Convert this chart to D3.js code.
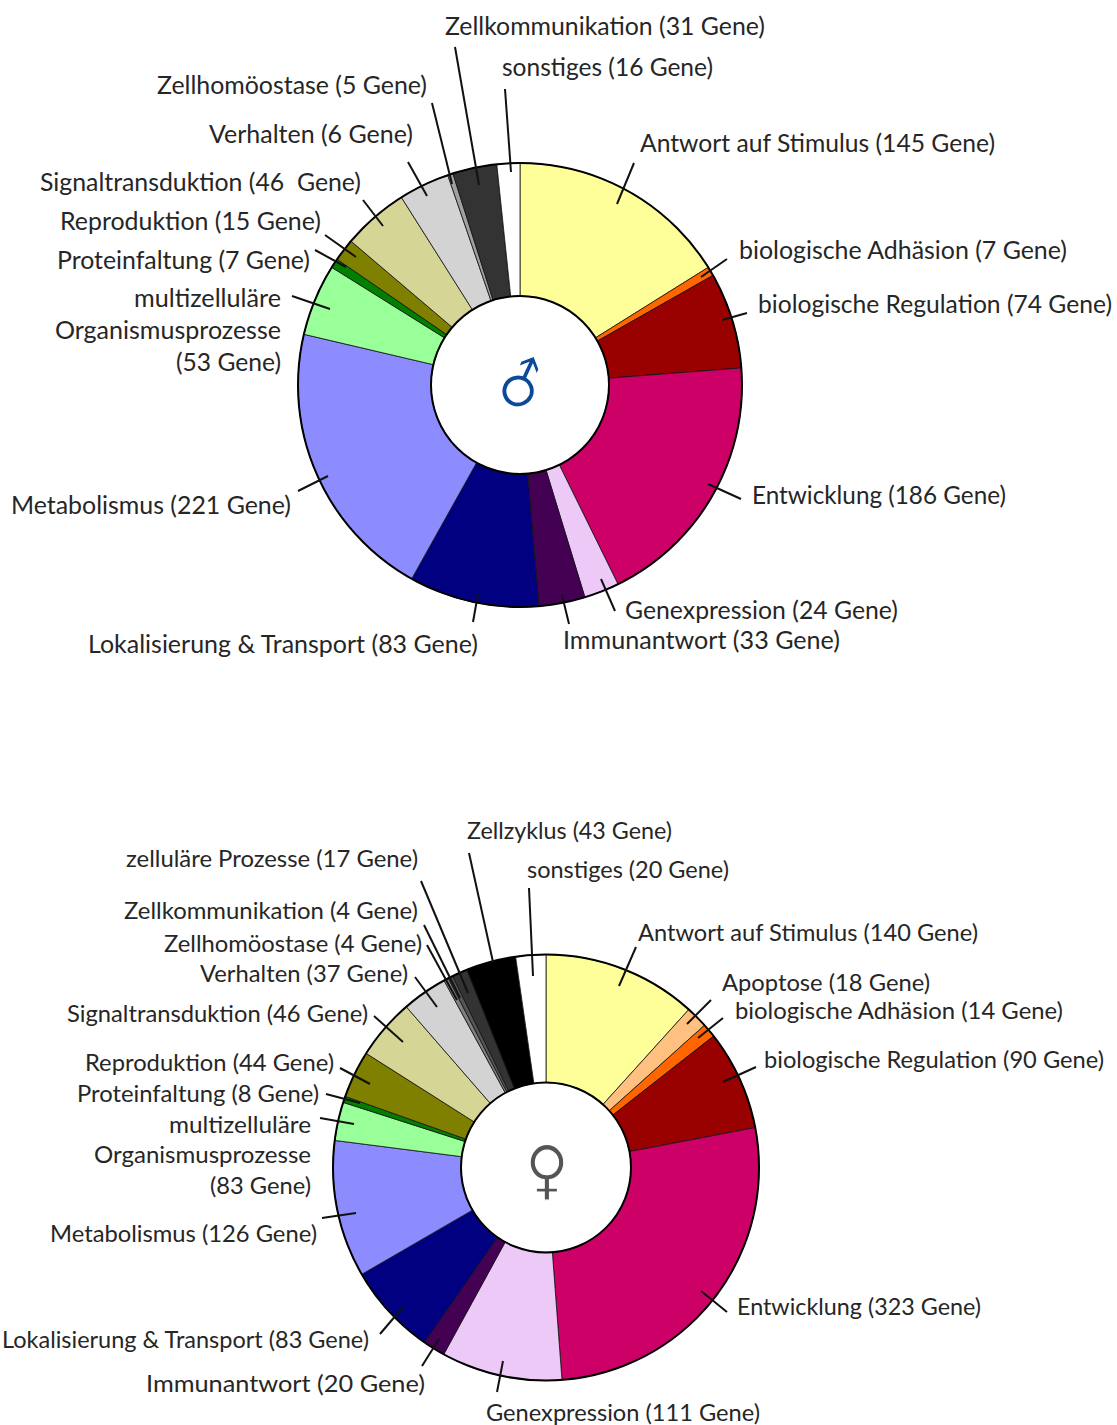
<!DOCTYPE html>
<html><head><meta charset="utf-8">
<script src="https://cdn.jsdelivr.net/npm/d3@7/dist/d3.min.js"></script>
<style>html,body{margin:0;padding:0;background:#fff;overflow:hidden}svg{display:block}text{font-family:Lato,"Open Sans",sans-serif;fill:#262626;white-space:pre}</style>
</head><body><svg id="c" width="1117" height="1425"></svg>
<script>
// ---------- data ----------
const maleLabels = ["Antwort auf Stimulus (145 Gene)","biologische Adhäsion (7 Gene)","biologische Regulation (74 Gene)","Entwicklung (186 Gene)","Genexpression (24 Gene)","Immunantwort (33 Gene)","Lokalisierung & Transport (83 Gene)","Metabolismus (221 Gene)","multizelluläre|Organismusprozesse|(53 Gene)","Proteinfaltung (7 Gene)","Reproduktion (15 Gene)","Signaltransduktion (46  Gene)","Verhalten (6 Gene)","Zellhomöostase (5 Gene)","Zellkommunikation (31 Gene)","sonstiges (16 Gene)"];
// slice sizes as drawn, in degrees of the ring
const maleSlices = [58,2.4,25.2,68.2,9.2,12.1,34.1,74,18.8,2.5,5.9,17.3,13.3,1.4,11.6,6];
const maleColors = ["#FFFF99","#FF6600","#990000","#CC0066","#ECC9F6","#440053","#000080","#8C8CFF","#99FF99","#008000","#808000","#D5D596","#D3D3D3","#A0A0A0","#333333","#FFFFFF"];

const femaleLabels = ["Antwort auf Stimulus (140 Gene)","Apoptose (18 Gene)","biologische Adhäsion (14 Gene)","biologische Regulation (90 Gene)","Entwicklung (323 Gene)","Genexpression (111 Gene)","Immunantwort (20 Gene)","Lokalisierung & Transport (83 Gene)","Metabolismus (126 Gene)","multizelluläre|Organismusprozesse|(83 Gene)","Proteinfaltung (8 Gene)","Reproduktion (44 Gene)","Signaltransduktion (46 Gene)","Verhalten (37 Gene)","Zellhomöostase (4 Gene)","Zellkommunikation (4 Gene)","zelluläre Prozesse (17 Gene)","Zellzyklus (43 Gene)","sonstiges (20 Gene)"];
const femaleSlices = [42.1,6,3.8,27.3,96.5,33,6.1,25.1,37.4,10.5,1.7,12.9,16.6,12.4,1.3,1.3,4.2,13.6,8.2];
const femaleColors = ["#FFFF99","#FFC080","#FF6600","#990000","#CC0066","#ECC9F6","#440053","#000080","#8C8CFF","#99FF99","#008000","#808000","#D5D596","#D3D3D3","#808080","#555555","#333333","#000000","#FFFFFF"];

// ---------- layout ----------
const maleLayout = {cx:520,cy:385,R:222,r:89,font:24.8,lineGap:32,symbol:"♂",symColor:"#0B4A99",symTransform:"translate(518,392) rotate(-21)",symDx:5.6,symDy:14,symSize:58,
 text:[[640,144,"start"],[739,251,"start"],[758,305,"start"],[752,496,"start"],[625,611,"start"],[563,641,"start"],[88,645,"start"],[11,506,"start"],[281,299,"end"],[57,261,"start"],[60,222,"start"],[40,183,"start"],[209,135,"start"],[157,86,"start"],[445,27,"start"],[502,68,"start"]],
 width:[355,328,354,254,273,277,390,280,[147,226,105],253,261,321,204,270,320,211],
 lead:[[634,163,617,204],[727,259,701,277],[747,313,722,320],[741,499,708,484],[615,611,601,579],[569,624,562,595],[473,622,478,594],[298,491,328,476],[292,296,330,309],[315,250,346,267],[325,235,356,257],[363,200,383,226],[408,162,427,196],[432,103,452,184],[455,47,479,185],[505,89,511,172]]};
const femaleLayout = {cx:546,cy:1167.5,R:213,r:85,font:23.9,lineGap:30.5,symbol:"♀",symColor:"#555555",symTransform:"translate(547,1164) scale(1,1.08)",symDx:0,symDy:26,symSize:60,
 text:[[638,933,"start"],[722,983,"start"],[735,1011,"start"],[764,1060,"start"],[737,1307,"start"],[486,1413,"start"],[146,1384,"start"],[369,1340,"end"],[50,1234,"start"],[311,1125,"end"],[77,1094,"start"],[85,1063,"start"],[67,1014,"start"],[200,974,"start"],[164,944,"start"],[124,911,"start"],[126,859,"start"],[467,831,"start"],[527,870,"start"]],
 width:[340,208,328,340,244,274,279,367,267,[142,217,101],242,249,301,208,258,294,292,205,202],
 lead:[[636,947,619,986],[711,1000,687,1024],[723,1018,698,1038],[756,1067,723,1082],[727,1312,701,1291],[497,1392,503,1361],[422,1366,439,1339],[380,1334,403,1307],[322,1218,356,1213],[320,1118,354,1124],[326,1094,360,1103],[340,1068,370,1084],[374,1016,403,1042],[415,977,437,1007],[427,945,457,1000],[424,925,460,998],[421,881,468,993],[469,853,493,962],[529,888,533,976]]};

const svg = d3.select("#c");
function draw(labels, slices, colors, L){
  const g = svg.append("g").attr("transform",`translate(${L.cx},${L.cy})`);
  const pie = d3.pie().sort(null).value(d=>d)(slices);
  const arc = d3.arc().innerRadius(L.r).outerRadius(L.R);
  g.selectAll("path.s").data(pie).join("path").attr("class","s").attr("d",arc)
    .attr("fill",(d,i)=>colors[i]).attr("stroke","#111").attr("stroke-width",0.8);
  // outer and inner rims
  [L.R,L.r].forEach(rad=>g.append("circle").attr("r",rad).attr("fill","none").attr("stroke","#000").attr("stroke-width",2));
  // leaders
  svg.append("g").selectAll("line").data(L.lead).join("line")
    .attr("x1",d=>d[0]).attr("y1",d=>d[1]).attr("x2",d=>d[2]).attr("y2",d=>d[3])
    .attr("stroke","#111").attr("stroke-width",2);
  // labels
  labels.forEach((t,i)=>{
    const [x,y,a]=L.text[i];
    const w=[].concat(L.width[i]);
    t.split("|").forEach((line,k)=>{
      svg.append("text").attr("x",x).attr("y",y+k*L.lineGap).attr("dy","0.33em").attr("text-anchor",a)
        .attr("font-size",L.font).attr("textLength",w[k]).attr("lengthAdjust","spacingAndGlyphs").text(line);
    });
  });
  svg.append("text").attr("transform",L.symTransform).attr("x",L.symDx).attr("y",L.symDy).attr("text-anchor","middle")
    .style("font-family","'DejaVu Sans'").style("fill",L.symColor).style("stroke","#fff").style("stroke-width",1.1)
    .attr("font-size",L.symSize).text(L.symbol);
}
draw(maleLabels,maleSlices,maleColors,maleLayout);
draw(femaleLabels,femaleSlices,femaleColors,femaleLayout);
</script></body></html>
